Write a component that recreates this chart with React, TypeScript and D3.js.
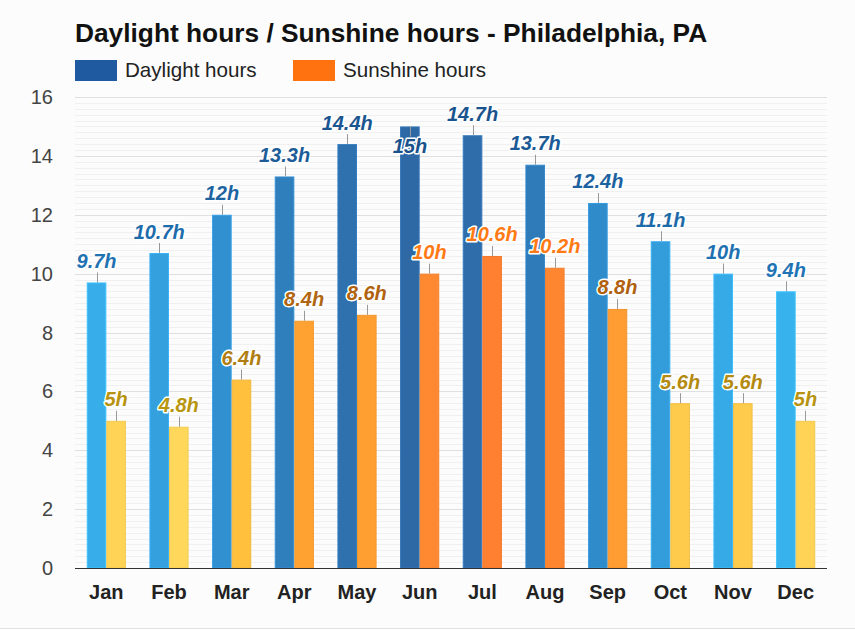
import React, { useEffect, useRef } from 'react';
import * as d3 from 'd3';

const months = ['Jan', 'Feb', 'Mar', 'Apr', 'May', 'Jun', 'Jul', 'Aug', 'Sep', 'Oct', 'Nov', 'Dec'];
const daylight = [9.7, 10.7, 12, 13.3, 14.4, 15, 14.7, 13.7, 12.4, 11.1, 10, 9.4];
const sunshine = [5, 4.8, 6.4, 8.4, 8.6, 10, 10.6, 10.2, 8.8, 5.6, 5.6, 5];
const yTicks = [0, 2, 4, 6, 8, 10, 12, 14, 16];

const W = 855;
const H = 641;
const FONT = '"Liberation Sans", Arial, Helvetica, sans-serif';

const buildChart = (el: SVGSVGElement) => {
  const margin = { top: 97, right: 28, bottom: 73, left: 75 };
  const svg = d3.select(el);
  svg.selectAll('*').remove();

  // page background + bottom separator
  svg.append('rect').attr('width', W).attr('height', H).attr('fill', '#fbfcfb');
  svg.append('rect').attr('y', 629).attr('width', W).attr('height', H - 629).attr('fill', '#ffffff');
  svg.append('line').attr('x1', 0).attr('x2', W).attr('y1', 628.5).attr('y2', 628.5)
    .attr('stroke', '#e2e2e2');

  const x = d3.scaleBand().domain(months).range([margin.left, W - margin.right]);
  const y = d3.scaleLinear().domain([0, 16]).range([H - margin.bottom, margin.top]);
  const inner = d3.scaleBand().domain(['day', 'sun']).range([0, x.bandwidth()]).paddingOuter(0.6);

  const dayFill = d3.scaleLinear<string>().domain([9.4, 12, 15]).range(['#38b2ec', '#3090d0', '#2e69a5']);
  const dayText = d3.scaleLinear<string>().domain([9.4, 15]).range(['#1f74b4', '#1a528c']);
  const sunFill = d3.scaleLinear<string>().domain([4.8, 7, 10.6]).range(['#ffd75a', '#ffb733', '#ff8030']);
  const sunText = d3.scaleLinear<string>().domain([4.8, 6.4, 8.8, 9.9, 10.6])
    .range(['#b8960f', '#b07d12', '#b0600f', '#ff7a14', '#ff7a14']);

  // grid
  const minor = d3.range(0, 16.01, 0.2);
  svg.append('g').selectAll('line').data(minor).join('line')
    .attr('x1', margin.left).attr('x2', W - margin.right)
    .attr('y1', d => Math.round(y(d)) + 0.5).attr('y2', d => Math.round(y(d)) + 0.5)
    .attr('stroke', '#f0f0f0');
  svg.append('g').selectAll('line').data(yTicks.slice(1)).join('line')
    .attr('x1', margin.left).attr('x2', W - margin.right)
    .attr('y1', d => Math.round(y(d)) + 0.5).attr('y2', d => Math.round(y(d)) + 0.5)
    .attr('stroke', '#e0e0e0');

  // y labels
  svg.append('g').selectAll('text').data(yTicks).join('text')
    .attr('x', 53).attr('y', d => y(d) + 7)
    .attr('text-anchor', 'end')
    .attr('font-family', FONT).attr('font-size', 20).attr('fill', '#444')
    .text(d => d);

  const series = [
    { key: 'day', values: daylight, fill: dayFill, text: dayText },
    { key: 'sun', values: sunshine, fill: sunFill, text: sunText },
  ];

  series.forEach(s => {
    const g = svg.append('g');
    const bw = inner.bandwidth();
    const data = s.values.map((v, i) => ({ m: months[i], v }));
    g.selectAll('rect').data(data).join('rect')
      .attr('x', d => (x(d.m) as number) + (inner(s.key) as number) + 0.5)
      .attr('y', d => y(d.v) + 0.5)
      .attr('width', bw - 1)
      .attr('height', d => y(0) - y(d.v) - 0.5)
      .attr('fill', d => s.fill(d.v))
      .attr('stroke', d => s.key === 'day'
        ? (d3.color(s.fill(d.v)) as d3.RGBColor).brighter(0.3).toString()
        : (d3.color(s.fill(d.v)) as d3.RGBColor).darker(0.15).toString())
      .attr('stroke-width', 1);

    // labels
    const cx = (d: { m: string }) => (x(d.m) as number) + (inner(s.key) as number) + bw / 2;
    const flip = (d: { v: number }) => y(d.v) - 30 < margin.top;
    g.selectAll('line.conn').data(data).join('line')
      .attr('class', 'conn')
      .attr('x1', d => Math.round(cx(d)) + 0.5).attr('x2', d => Math.round(cx(d)) + 0.5)
      .attr('y1', d => y(d.v))
      .attr('y2', d => (flip(d) ? y(d.v) + 10 : y(d.v) - 10))
      .attr('stroke', '#999').attr('stroke-width', 1);
    g.selectAll('text').data(data).join('text')
      .attr('x', d => cx(d))
      .attr('y', d => (flip(d) ? y(d.v) + 27 : y(d.v) - 14.5))
      .attr('text-anchor', 'middle')
      .attr('font-family', FONT).attr('font-size', 20).attr('font-weight', 'bold')
      .attr('font-style', 'italic')
      .attr('fill', d => s.text(d.v))
      .attr('stroke', '#ffffff').attr('stroke-width', 3).attr('stroke-linejoin', 'round')
      .attr('paint-order', 'stroke')
      .text(d => `${d.v}h`);
  });

  // x axis
  svg.append('line')
    .attr('x1', margin.left).attr('x2', W - margin.right)
    .attr('y1', y(0) + 0.5).attr('y2', y(0) + 0.5)
    .attr('stroke', '#333');
  svg.append('g').selectAll('text').data(months).join('text')
    .attr('x', d => (x(d) as number) + x.bandwidth() / 2)
    .attr('y', 599)
    .attr('text-anchor', 'middle')
    .attr('font-family', FONT).attr('font-size', 20).attr('font-weight', 'bold')
    .attr('fill', '#222')
    .text(d => d);

  // title
  svg.append('text')
    .attr('x', 75).attr('y', 42)
    .attr('font-family', FONT).attr('font-size', 26.3).attr('font-weight', 'bold')
    .attr('fill', '#111')
    .text('Daylight hours / Sunshine hours - Philadelphia, PA');

  // legend
  const legend = [
    { label: 'Daylight hours', color: '#1f5aa0', x: 75 },
    { label: 'Sunshine hours', color: '#ff720f', x: 293 },
  ];
  const lg = svg.append('g').selectAll('g').data(legend).join('g')
    .attr('transform', d => `translate(${d.x},60)`);
  lg.append('rect').attr('width', 42).attr('height', 21).attr('fill', d => d.color);
  lg.append('text').attr('x', 50).attr('y', 17)
    .attr('font-family', FONT).attr('font-size', 20.6).attr('fill', '#222')
    .text(d => d.label);
};

const App = () => {
  const ref = useRef<SVGSVGElement>(null);
  useEffect(() => {
    document.body.style.margin = '0';
    if (ref.current) buildChart(ref.current);
  }, []);
  return <svg ref={ref} width={W} height={H} style={{ display: 'block' }} />;
};

export default App;
